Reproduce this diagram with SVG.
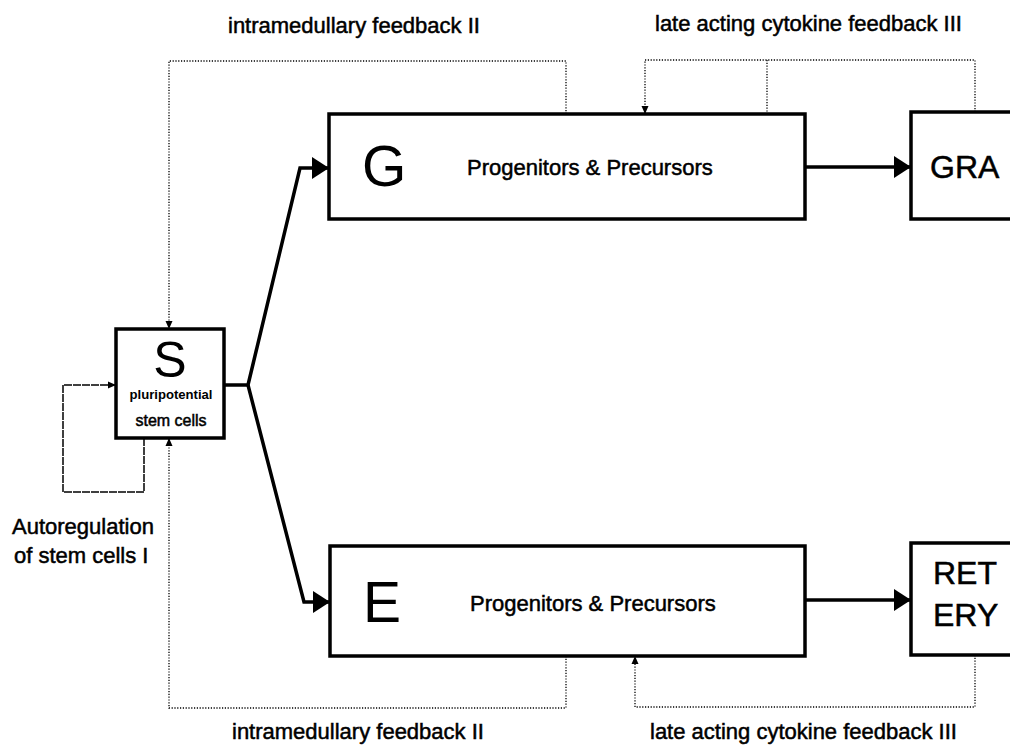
<svg xmlns="http://www.w3.org/2000/svg" width="1010" height="751" viewBox="0 0 1010 751">
<defs>
<marker id="big" markerUnits="userSpaceOnUse" markerWidth="18" markerHeight="24" viewBox="0 0 18 24" refX="17" refY="12" orient="auto"><path d="M0,1 L17,12 L0,23 Z" fill="#000"/></marker>
<marker id="small" markerUnits="userSpaceOnUse" markerWidth="8" markerHeight="8" viewBox="0 0 8 8" refX="8" refY="4" orient="auto"><path d="M0,0.5 L8,4 L0,7.5 Z" fill="#000"/></marker>
</defs>
<style>
.box{fill:#fff;stroke:#000;stroke-width:3.5}
.main{fill:none;stroke:#000;stroke-width:3.5;stroke-linejoin:miter}
.dot{fill:none;stroke:#000;stroke-width:1.3;stroke-dasharray:1.2 1.6}
.auto{fill:none;stroke:#000;stroke-width:1.5;stroke-dasharray:8 1}
text{font-family:"Liberation Sans",Arial,sans-serif;fill:#000}
.lbl{font-size:22px;stroke:#000;stroke-width:0.5}
.big{font-size:57px}
.mid{font-size:32px;stroke:#000;stroke-width:0.5}
</style>
<rect width="1010" height="751" fill="#fff"/>
<g id="connectors">
<path class="main" d="M224,385 L248,385 L300,168 L329,168" marker-end="url(#big)"/>
<path class="main" d="M248,385 L304,602 L330,602" marker-end="url(#big)"/>
<path class="main" d="M805,167 L911,167" marker-end="url(#big)"/>
<path class="main" d="M805,600 L911,600" marker-end="url(#big)"/>
<path class="dot" d="M566,114 L566,61 L169,61 L169,329" marker-end="url(#small)"/>
<path class="dot" d="M975,112 L975,60 L645,60 L645,114" marker-end="url(#small)"/>
<path class="dot" d="M767,60 L767,114"/>
<path class="dot" d="M566,656 L566,708 L169,708 L169,438" marker-end="url(#small)"/>
<path class="dot" d="M975,655 L975,707 L635,707 L635,656" marker-end="url(#small)"/>
<path class="auto" d="M144,438 L144,492 L63,492 L63,385 L116,385" marker-end="url(#small)"/>
</g>
<g id="S">
<rect class="box" x="116" y="329" width="108" height="109"/>
<text x="170" y="377" text-anchor="middle" style="font-size:50px">S</text>
<text x="171" y="399" text-anchor="middle" style="font-size:12px;font-weight:bold" textLength="83" lengthAdjust="spacingAndGlyphs">pluripotential</text>
<text x="171" y="426" text-anchor="middle" style="font-size:16px;stroke:#000;stroke-width:0.5">stem cells</text>
</g>
<g id="G">
<rect class="box" x="329" y="114" width="476" height="105"/>
<text class="big" x="362" y="186">G</text>
<text class="lbl" x="467" y="175">Progenitors &amp; Precursors</text>
</g>
<g id="GRA">
<rect class="box" x="911" y="112" width="120" height="107"/>
<text class="mid" x="930" y="178">GRA</text>
</g>
<g id="E">
<rect class="box" x="330" y="546" width="475" height="110"/>
<text class="big" x="363" y="622">E</text>
<text class="lbl" x="470" y="611">Progenitors &amp; Precursors</text>
</g>
<g id="RET">
<rect class="box" x="911" y="543" width="120" height="112"/>
<text class="mid" x="933" y="584">RET</text>
<text class="mid" x="933" y="626">ERY</text>
</g>
<g id="labels">
<text class="lbl" x="228" y="33">intramedullary feedback II</text>
<text class="lbl" x="655" y="31">late acting cytokine feedback III</text>
<text class="lbl" x="232" y="739">intramedullary feedback II</text>
<text class="lbl" x="650" y="739">late acting cytokine feedback III</text>
<text class="lbl" x="12" y="534">Autoregulation</text>
<text class="lbl" x="14" y="563">of stem cells I</text>
</g>
</svg>
